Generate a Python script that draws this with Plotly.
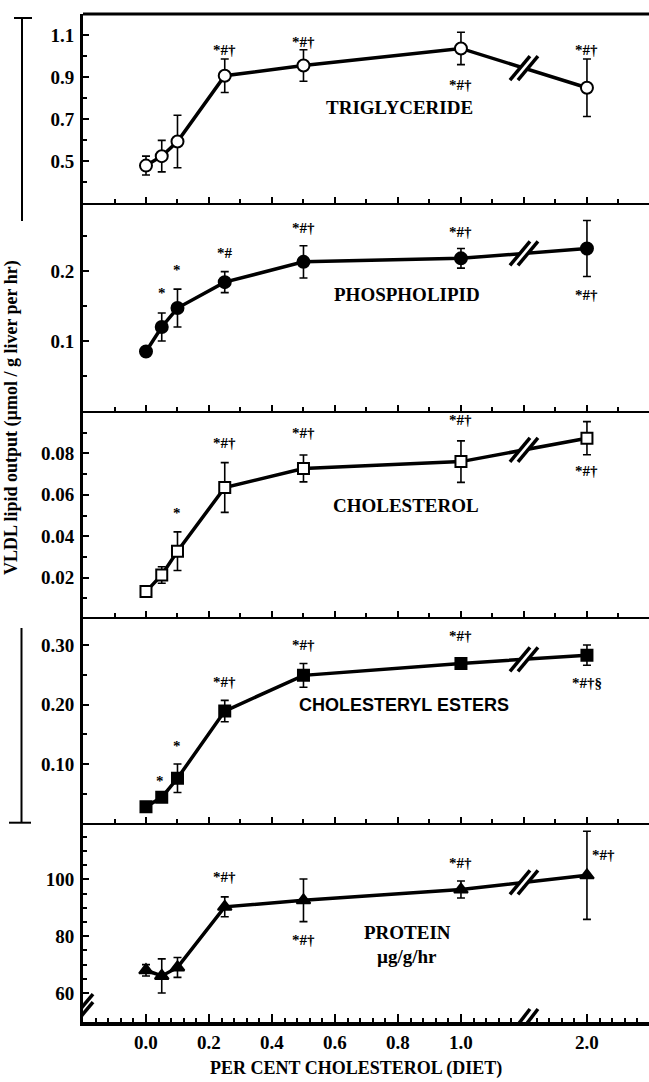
import plotly.graph_objects as go

# ---------------- data ----------------
diet = [0.0, 0.05, 0.1, 0.25, 0.5, 1.0, 2.0]

triglyceride = [0.48, 0.525, 0.595, 0.908, 0.957, 1.038, 0.851]
triglyceride_err = [0.045, 0.075, 0.125, 0.08, 0.075, 0.077, 0.137]

phospholipid = [0.085, 0.12, 0.147, 0.184, 0.213, 0.218, 0.232]
phospholipid_err = [0.005, 0.02, 0.027, 0.015, 0.023, 0.014, 0.04]

cholesterol = [0.0133, 0.0213, 0.0328, 0.0635, 0.0727, 0.076, 0.0873]
cholesterol_err = [0.001, 0.004, 0.0093, 0.012, 0.0065, 0.01, 0.008]

chol_esters = [0.028, 0.044, 0.076, 0.189, 0.249, 0.269, 0.283]
chol_esters_err = [0.003, 0.003, 0.024, 0.018, 0.02, 0.005, 0.017]

protein = [68, 66, 69, 90.3, 92.6, 96.4, 101.4]
protein_err = [2, 6, 3.5, 3.5, 7.5, 3, 15.5]

x_tick_values = [0.0, 0.2, 0.4, 0.6, 0.8, 1.0, 2.0]
x_tick_labels = ["0.0", "0.2", "0.4", "0.6", "0.8", "1.0", "2.0"]

# significance marks: (diet, text, label y)
sig_tg = [(0.25, "*#†", 1.007), (0.5, "*#†", 1.047), (1.0, "*#†", 0.88), (2.0, "*#†", 1.007)]
sig_pl = [(0.05, "*", 0.162), (0.1, "*", 0.194), (0.25, "*#", 0.218), (0.5, "*#†", 0.254),
          (1.0, "*#†", 0.249), (2.0, "*#†", 0.170)]
sig_ch = [(0.1, "*", 0.0486), (0.25, "*#†", 0.0824), (0.5, "*#†", 0.0872), (1.0, "*#†", 0.0937),
          (2.0, "*#†", 0.0728)]
sig_ce = [(0.045, "*", 0.076), (0.1, "*", 0.122), (0.25, "*#†", 0.229), (0.5, "*#†", 0.292),
          (1.0, "*#†", 0.307), (2.0, "*#†§", 0.241)]
sig_pr = [(0.25, "*#†", 99.2), (0.5, "*#†", 79.8), (1.0, "*#†", 103.9), (2.13, "*#†", 106.8)]

# ---------------- broken-axis transform ----------------
BREAK_AT = 1.2


def axpos(d):
    """Axis position on the broken diet scale (1.0 -> 2.0 compressed)."""
    return d if d <= 1.0 else 1.0 + (d - 1.0) * 0.4


X_RANGE = [-0.2, 1.597]
SERIF = "Liberation Serif"
SANS = "Liberation Sans Narrow, Liberation Sans, Arial"

panels = [
    dict(y=triglyceride, e=triglyceride_err, sym="circle", fill="white", rng=[0.302, 1.202],
         tv=[0.5, 0.7, 0.9, 1.1], fmt=".1f", mdt=0.1, m0=0.5, sig=sig_tg,
         label="TRIGLYCERIDE", lx=0.805, ly=0.758, lfont=SERIF, lsize=19),
    dict(y=phospholipid, e=phospholipid_err, sym="circle", fill="black", rng=[0.0, 0.297],
         tv=[0.1, 0.2], fmt=".1f", mdt=0.05, m0=0.0, sig=sig_pl,
         label="PHOSPHOLIPID", lx=0.83, ly=0.167, lfont=SERIF, lsize=19),
    dict(y=cholesterol, e=cholesterol_err, sym="square", fill="white", rng=[0.0012, 0.1004],
         tv=[0.02, 0.04, 0.06, 0.08], fmt=".2f", mdt=0.01, m0=0.0, sig=sig_ch,
         label="CHOLESTEROL", lx=0.824, ly=0.055, lfont=SERIF, lsize=19),
    dict(y=chol_esters, e=chol_esters_err, sym="square", fill="black", rng=[0.0003, 0.3476],
         tv=[0.10, 0.20, 0.30], fmt=".2f", mdt=0.05, m0=0.0, sig=sig_ce,
         label="CHOLESTERYL ESTERS", lx=0.818, ly=0.199, lfont=SANS, lsize=18),
    dict(y=protein, e=protein_err, sym="triangle-up", fill="black", rng=[49.8, 119.7],
         tv=[60, 80, 100], fmt="d", mdt=5, m0=0, sig=sig_pr,
         label="PROTEIN", lx=0.83, ly=81.4, lfont=SERIF, lsize=19),
]

# pixel layout
W, H = 649, 1082
ML, MR, MT, MB = 83, 0, 14, 60
bounds = [14, 203, 411, 616.7, 823.3, 1022]
plot_h = H - MT - MB
plot_w = W - ML - MR


def py(p):
    return (H - MB - p) / plot_h


def px(p):
    return (p - ML) / plot_w


fig = go.Figure()
layout = dict(
    width=W, height=H, margin=dict(l=ML, r=MR, t=MT, b=MB),
    paper_bgcolor="white", plot_bgcolor="white", showlegend=False,
    font=dict(family=SERIF, color="black"),
)
annotations = []
shapes = []

xs = [axpos(d) for d in diet]

for i, p in enumerate(panels, start=1):
    xa = "x" if i == 1 else f"x{i}"
    ya = "y" if i == 1 else f"y{i}"
    fig.add_trace(go.Scatter(
        x=xs, y=p["y"], xaxis=xa, yaxis=ya, mode="lines+markers",
        line=dict(color="black", width=3.5),
        marker=dict(symbol=p["sym"], size=12 if p["sym"] != "square" else 11,
                    color=p["fill"], line=dict(color="black", width=2)),
        error_y=dict(type="data", array=p["e"], visible=True, color="black", thickness=1.6, width=4),
        cliponaxis=False,
    ))
    last = i == 5
    xkey = "xaxis" if i == 1 else f"xaxis{i}"
    ykey = "yaxis" if i == 1 else f"yaxis{i}"
    xdict = dict(
        domain=[0, 1], range=X_RANGE, anchor=ya, showgrid=False, zeroline=False,
        showline=True, linecolor="black", linewidth=4 if last else 2,
        ticks="inside", tickcolor="black", tickwidth=2, ticklen=8 if last else 6,
        minor=dict(ticks="inside", ticklen=4, tickwidth=1.5, tickcolor="black",
                   dtick=0.04 if last else 0.1, tick0=0),
    )
    if last:
        xdict.update(tickmode="array", tickvals=[axpos(v) for v in x_tick_values],
                     ticktext=x_tick_labels, showticklabels=True,
                     tickfont=dict(family=SERIF, size=19, weight="bold"))
    else:
        xdict.update(tickmode="linear", tick0=0, dtick=0.2, showticklabels=False)
    layout[xkey] = xdict
    layout[ykey] = dict(
        domain=[py(bounds[i]), py(bounds[i - 1])], range=p["rng"], anchor=xa,
        showgrid=False, zeroline=False, showline=True, linecolor="black", linewidth=3,
        ticks="inside", tickcolor="black", tickwidth=2, ticklen=6,
        tickmode="array", tickvals=p["tv"], tickformat=p["fmt"],
        tickfont=dict(family=SERIF, size=19, weight="bold"), ticklabelstandoff=2,
        minor=dict(ticks="inside", ticklen=4, tickwidth=1.5, tickcolor="black",
                   dtick=p["mdt"], tick0=p["m0"]),
    )

    # significance labels (nudged clear of the error-bar caps)
    for d, t, yv in p["sig"]:
        k = diet.index(d) if d in diet else len(diet) - 1
        above = yv > p["y"][k]
        annotations.append(dict(x=axpos(d), y=yv, xref=xa, yref=ya, text=t, showarrow=False,
                                font=dict(family=SERIF, size=15, weight="bold"),
                                xanchor="center", yanchor="middle",
                                yshift=5 if above else -3))
    # series label
    annotations.append(dict(x=p["lx"], y=p["ly"], xref=xa, yref=ya, text=p["label"], showarrow=False,
                            font=dict(family=p["lfont"], size=p["lsize"], weight="bold"),
                            xanchor="center", yanchor="middle"))

    # break mark on the data line
    y1, y2 = p["y"][5], p["y"][6]
    x1, x2 = xs[5], xs[6]
    ymid = y1 + (y2 - y1) * (BREAK_AT - x1) / (x2 - x1)
    shapes.append(dict(type="path", xref=xa, yref=ya, xsizemode="pixel", ysizemode="pixel",
                       xanchor=BREAK_AT, yanchor=ymid,
                       path="M -14,-12 L 6,12 L 14,12 L -6,-12 Z",
                       fillcolor="white", line=dict(width=0)))
    for pth in ["M -14,-12 L 6,12", "M -6,-12 L 14,12"]:
        shapes.append(dict(type="path", xref=xa, yref=ya, xsizemode="pixel", ysizemode="pixel",
                           xanchor=BREAK_AT, yanchor=ymid, path=pth,
                           line=dict(color="black", width=3.5)))

# unit label under PROTEIN
annotations.append(dict(x=0.83, y=72.8, xref="x5", yref="y5", text="µg/g/hr", showarrow=False,
                        font=dict(family=SERIF, size=19, weight="bold")))

# break on the bottom x-axis
shapes.append(dict(type="path", xref="x5", yref="y5", xsizemode="pixel", ysizemode="pixel",
                   xanchor=BREAK_AT, yanchor=panels[4]["rng"][0],
                   path="M -14,-13 L 6,13 L 14,13 L -6,-13 Z", fillcolor="white", line=dict(width=0)))
for pth in ["M -14,-13 L 6,13", "M -6,-13 L 14,13"]:
    shapes.append(dict(type="path", xref="x5", yref="y5", xsizemode="pixel", ysizemode="pixel",
                       xanchor=BREAK_AT, yanchor=panels[4]["rng"][0], path=pth,
                       line=dict(color="black", width=3.5)))

# break on the bottom y-axis
shapes.append(dict(type="path", xref="x5", yref="y5", xsizemode="pixel", ysizemode="pixel",
                   xanchor=X_RANGE[0], yanchor=54,
                   path="M -10,-16 L 10,8 L 10,16 L -10,-8 Z", fillcolor="white", line=dict(width=0)))
for pth in ["M -10,-16 L 10,8", "M -10,-8 L 10,16"]:
    shapes.append(dict(type="path", xref="x5", yref="y5", xsizemode="pixel", ysizemode="pixel",
                       xanchor=X_RANGE[0], yanchor=54, path=pth,
                       line=dict(color="black", width=3.5)))

# top frame line
shapes.append(dict(type="line", xref="paper", yref="paper", x0=0, x1=1, y0=1, y1=1,
                   line=dict(color="black", width=3)))

# left brackets
shapes.append(dict(type="line", xref="paper", yref="paper", x0=px(22), x1=px(22), y0=py(18), y1=py(221),
                   line=dict(color="black", width=2)))
shapes.append(dict(type="line", xref="paper", yref="paper", x0=px(14), x1=px(32), y0=py(18), y1=py(18),
                   line=dict(color="black", width=2)))
shapes.append(dict(type="line", xref="paper", yref="paper", x0=px(21.5), x1=px(21.5), y0=py(628),
                   y1=py(822.7), line=dict(color="black", width=2)))
shapes.append(dict(type="line", xref="paper", yref="paper", x0=px(9), x1=px(31), y0=py(822.7),
                   y1=py(822.7), line=dict(color="black", width=2)))

# axis titles
annotations.append(dict(x=px(11), y=py(418), xref="paper", yref="paper",
                        text="VLDL lipid output (µmol / g liver per hr)", textangle=-90,
                        showarrow=False, xanchor="center", yanchor="middle",
                        font=dict(family=SERIF, size=18, weight="bold")))
annotations.append(dict(x=px(356), y=py(1068), xref="paper", yref="paper",
                        text="PER CENT CHOLESTEROL (DIET)", showarrow=False,
                        xanchor="center", yanchor="middle",
                        font=dict(family=SERIF, size=18, weight="bold")))

layout["annotations"] = annotations
layout["shapes"] = shapes
fig.update_layout(**layout)
fig.write_html("out.html", config={"displayModeBar": False},
               post_script="document.body.style.margin='0';document.body.style.padding='0';")
